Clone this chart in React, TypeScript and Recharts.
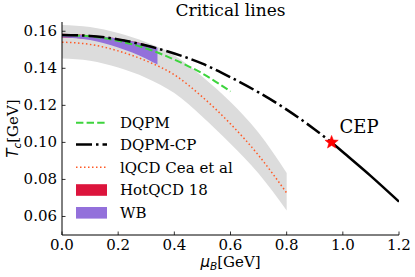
import React from 'react';
import {
  ComposedChart,
  Line,
  Area,
  Scatter,
  XAxis,
  YAxis,
  Legend,
} from 'recharts';

// ticks
const xTicks = [0, 0.2, 0.4, 0.6, 0.8, 1.0, 1.2];
const yTicks = [0.06, 0.08, 0.1, 0.12, 0.14, 0.16];

// DQPM-CP (dash-dot up to the CEP, solid after)
const muCP = [0, 0.1, 0.2, 0.3, 0.4, 0.5, 0.6, 0.7, 0.8, 0.9, 0.96];
const tCP = [0.158, 0.1575, 0.1556, 0.1523, 0.148, 0.1425, 0.1352, 0.127, 0.1177, 0.107, 0.1];
const muCPSolid = [0.96, 1.0, 1.1, 1.2];
const tCPSolid = [0.1, 0.0948, 0.0818, 0.068];

// DQPM
const muDQPM = [0, 0.1, 0.2, 0.3, 0.4, 0.5, 0.6];
const tDQPM = [0.158, 0.1572, 0.1548, 0.1507, 0.1447, 0.1372, 0.1275];

// lQCD Cea et al, central line and band
const muCea = [0, 0.1, 0.2, 0.3, 0.4, 0.5, 0.6, 0.7, 0.8];
const tCea = [0.1541, 0.1529, 0.1494, 0.144, 0.1365, 0.1245, 0.11, 0.093, 0.0727];
const ceaLow = [0.1453, 0.1441, 0.1404, 0.1348, 0.1266, 0.1138, 0.0992, 0.0832, 0.0632];
const ceaHigh = [0.1634, 0.1623, 0.159, 0.154, 0.147, 0.1355, 0.1218, 0.1052, 0.0835];

// HotQCD 18 band
const muHot = [0, 0.1, 0.2, 0.3];
const hotLow = [0.1566, 0.1558, 0.1536, 0.1503];
const hotHigh = [0.1586, 0.1579, 0.1561, 0.153];

// WB band
const muWB = [0, 0.1, 0.2, 0.3, 0.34];
const wbLow = [0.1568, 0.1553, 0.1512, 0.1452, 0.142];
const wbHigh = [0.1584, 0.1577, 0.156, 0.1528, 0.151];

// critical end point
const cepMu = [0.96];
const cepT = [0.1];

const toLine = (mu: number[], t: number[]) => mu.map((m, i) => ({ mu: m, T: t[i] }));
const toBand = (mu: number[], lo: number[], hi: number[]) =>
  mu.map((m, i) => ({ mu: m, band: [lo[i], hi[i]] }));

const cpData = toLine(muCP, tCP);
const cpSolidData = toLine(muCPSolid, tCPSolid);
const dqpmData = toLine(muDQPM, tDQPM);
const ceaData = toLine(muCea, tCea);
const ceaBand = toBand(muCea, ceaLow, ceaHigh);
const hotBand = toBand(muHot, hotLow, hotHigh);
const wbBand = toBand(muWB, wbLow, wbHigh);
const cepData = toLine(cepMu, cepT);

const SERIF = '"DejaVu Serif", serif';
const SANS = '"DejaVu Sans", sans-serif';
const GREEN = '#3dd43d';
const ORANGE = '#ff5a26';
const CRIMSON = '#dc143c';
const PURPLE = '#9370db';
const BAND = '#dcdcdc';
const FS = 15;

const BottomTick = (props: any) => {
  const { x, y, payload } = props;
  return (
    <g>
      <line x1={x} y1={y} x2={x} y2={y - 3.5} stroke="#000" strokeWidth={0.8} />
      <text x={x} y={y + 15} textAnchor="middle" fontFamily={SERIF} fontSize={FS} fill="#000">
        {payload.value.toFixed(1)}
      </text>
    </g>
  );
};

const TopTick = (props: any) => {
  const { x, y } = props;
  return <line x1={x} y1={y} x2={x} y2={y + 3.5} stroke="#000" strokeWidth={0.8} />;
};

const LeftTick = (props: any) => {
  const { x, y, payload } = props;
  return (
    <g>
      <line x1={x} y1={y} x2={x + 3.5} y2={y} stroke="#000" strokeWidth={0.8} />
      <text x={x - 5} y={y + 5} textAnchor="end" fontFamily={SERIF} fontSize={FS} fill="#000">
        {payload.value.toFixed(2)}
      </text>
    </g>
  );
};

const RightTick = (props: any) => {
  const { x, y } = props;
  return <line x1={x} y1={y} x2={x - 3.5} y2={y} stroke="#555" strokeWidth={0.8} />;
};

const xLabel = (props: any) => {
  const vb = props.viewBox;
  const cx = vb.x + vb.width / 2;
  return (
    <text x={cx} y={vb.y + 32} textAnchor="middle" fontSize={FS} fill="#000">
      <tspan fontFamily={SANS} fontStyle="italic">μ</tspan>
      <tspan fontFamily={SANS} fontStyle="italic" fontSize={10.5} dy={3}>B</tspan>
      <tspan fontFamily={SERIF} dy={-3}>[GeV]</tspan>
    </text>
  );
};

const yLabel = (props: any) => {
  const vb = props.viewBox;
  const cy = vb.y + vb.height / 2;
  const x = 18;
  return (
    <text x={x} y={cy} textAnchor="middle" fontSize={FS} fill="#000" transform={`rotate(-90, ${x}, ${cy})`}>
      <tspan fontFamily={SANS} fontStyle="italic">T</tspan>
      <tspan fontFamily={SANS} fontStyle="italic" fontSize={10.5} dy={3}>c</tspan>
      <tspan fontFamily={SERIF} dy={-3}>[GeV]</tspan>
    </text>
  );
};

const starPath = (cx: number, cy: number, R: number, r: number) => {
  const pts: string[] = [];
  for (let i = 0; i < 10; i++) {
    const rad = i % 2 === 0 ? R : r;
    const a = (Math.PI / 5) * i - Math.PI / 2;
    pts.push(`${cx + rad * Math.cos(a)},${cy + rad * Math.sin(a)}`);
  }
  return `M${pts.join('L')}Z`;
};

const CepShape = (props: any) => {
  const { cx, cy } = props;
  return (
    <g>
      <path d={starPath(cx, cy, 7, 3)} fill="#ff0000" stroke="#ff0000" strokeWidth={0.5} />
      <text x={cx + 8} y={cy - 9.5} fontFamily={SERIF} fontSize={18} fill="#000">
        CEP
      </text>
    </g>
  );
};

const legendRows = [
  { name: 'DQPM', kind: 'line', color: GREEN, dash: '7.4 3.2', width: 2, y: 122.7 },
  { name: 'DQPM-CP', kind: 'line', color: '#000', dash: '16 4 2.5 4', width: 2.5, y: 144.5 },
  { name: 'lQCD Cea et al', kind: 'line', color: ORANGE, dash: '1.5 2.5', width: 1.5, y: 167.3 },
  { name: 'HotQCD 18', kind: 'patch', color: CRIMSON, dash: '', width: 0, y: 190 },
  { name: 'WB', kind: 'patch', color: PURPLE, dash: '', width: 0, y: 212.8 },
];

const renderLegend = () => (
  <svg width={300} height={230} style={{ display: 'block' }}>
    {legendRows.map((r) => (
      <g key={r.name}>
        {r.kind === 'line' ? (
          <line x1={76} y1={r.y} x2={107} y2={r.y} stroke={r.color} strokeWidth={r.width} strokeDasharray={r.dash} />
        ) : (
          <rect x={76} y={r.y - 5.8} width={31} height={11.6} fill={r.color} />
        )}
        <text x={120} y={r.y + 5.3} fontFamily={SERIF} fontSize={FS} fill="#000">
          {r.name}
        </text>
      </g>
    ))}
  </svg>
);

export default function App() {
  return (
    <div style={{ position: 'absolute', left: 0, top: 0, width: 415, height: 277, background: '#fff' }}>
      <div
        style={{
          position: 'absolute',
          left: 62,
          top: 0,
          width: 337,
          textAlign: 'center',
          fontFamily: SERIF,
          fontSize: 17,
          lineHeight: '20px',
          color: '#000',
        }}
      >
        Critical lines
      </div>
      <ComposedChart width={415} height={277} margin={{ top: 22, right: 16, bottom: 2, left: 2 }}>
        <XAxis
          dataKey="mu"
          type="number"
          domain={[0, 1.2]}
          ticks={xTicks}
          allowDataOverflow
          height={40}
          tickSize={0}
          tickMargin={0}
          tick={<BottomTick />}
          axisLine={{ stroke: '#000', strokeWidth: 1 }}
          label={xLabel}
        />
        <XAxis
          xAxisId="top"
          orientation="top"
          dataKey="mu"
          type="number"
          domain={[0, 1.2]}
          ticks={xTicks}
          allowDataOverflow
          height={0}
          tickSize={0}
          tickMargin={0}
          tick={<TopTick />}
          axisLine={{ stroke: '#999', strokeWidth: 1 }}
        />
        <YAxis
          type="number"
          domain={[0.05, 0.165]}
          ticks={yTicks}
          allowDataOverflow
          width={60}
          tickSize={0}
          tickMargin={0}
          tick={<LeftTick />}
          axisLine={{ stroke: '#000', strokeWidth: 1 }}
          label={yLabel}
        />
        <YAxis
          yAxisId="right"
          orientation="right"
          type="number"
          domain={[0.05, 0.165]}
          ticks={yTicks}
          allowDataOverflow
          width={0}
          tickSize={0}
          tickMargin={0}
          tick={<RightTick />}
          axisLine={{ stroke: '#000', strokeWidth: 1 }}
        />
        <Legend
          layout="vertical"
          align="center"
          verticalAlign="middle"
          content={renderLegend}
          wrapperStyle={{ position: 'absolute', left: 0, top: 0, width: 300, height: 230 }}
        />
        <Area data={ceaBand} dataKey="band" type="monotone" stroke="none" fill={BAND} fillOpacity={1} isAnimationActive={false} />
        <Area data={hotBand} dataKey="band" type="monotone" stroke="none" fill={CRIMSON} fillOpacity={1} isAnimationActive={false} />
        <Area data={wbBand} dataKey="band" type="monotone" stroke="none" fill={PURPLE} fillOpacity={1} isAnimationActive={false} />
        <Line data={ceaData} dataKey="T" type="monotone" stroke={ORANGE} strokeWidth={1.5} strokeDasharray="1.5 2.5" dot={false} isAnimationActive={false} />
        <Line data={dqpmData} dataKey="T" type="monotone" stroke={GREEN} strokeWidth={2} strokeDasharray="7.4 3.2" dot={false} isAnimationActive={false} />
        <Line data={cpData} dataKey="T" type="monotone" stroke="#000" strokeWidth={2.5} strokeDasharray="16 4 2.5 4" dot={false} isAnimationActive={false} />
        <Line data={cpSolidData} dataKey="T" type="monotone" stroke="#000" strokeWidth={2.5} dot={false} isAnimationActive={false} />
        <Line
          data={cpSolidData}
          xAxisId="top"
          yAxisId="right"
          dataKey="T"
          stroke="none"
          dot={false}
          activeDot={false}
          legendType="none"
          isAnimationActive={false}
        />
        <Scatter data={cepData} dataKey="T" shape={<CepShape />} isAnimationActive={false} />
      </ComposedChart>
    </div>
  );
}
